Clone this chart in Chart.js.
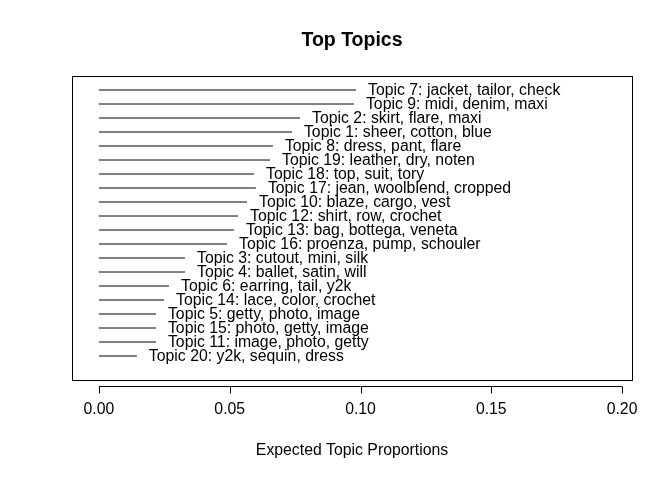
<!DOCTYPE html>
<html>
<head>
<meta charset="utf-8">
<script src="https://cdn.jsdelivr.net/npm/chart.js@4"></script>
<style>
  body { margin: 0; background: #fff; }
  #wrap { width: 672px; height: 480px; }
</style>
</head>
<body>
<div id="wrap"><canvas id="c"></canvas></div>
<script>
// Topics from top to bottom
const topicLabels = [
    'Topic 7: jacket, tailor, check',
    'Topic 9: midi, denim, maxi',
    'Topic 2: skirt, flare, maxi',
    'Topic 1: sheer, cotton, blue',
    'Topic 8: dress, pant, flare',
    'Topic 19: leather, dry, noten',
    'Topic 18: top, suit, tory',
    'Topic 17: jean, woolblend, cropped',
    'Topic 10: blaze, cargo, vest',
    'Topic 12: shirt, row, crochet',
    'Topic 13: bag, bottega, veneta',
    'Topic 16: proenza, pump, schouler',
    'Topic 3: cutout, mini, silk',
    'Topic 4: ballet, satin, will',
    'Topic 6: earring, tail, y2k',
    'Topic 14: lace, color, crochet',
    'Topic 5: getty, photo, image',
    'Topic 15: photo, getty, image',
    'Topic 11: image, photo, getty',
    'Topic 20: y2k, sequin, dress'
];
const proportions = [0.0983, 0.0975, 0.0769, 0.0738, 0.0665, 0.0654, 0.0593, 0.0600,
    0.0566, 0.0532, 0.0516, 0.0490, 0.0329, 0.0329, 0.0268, 0.0249, 0.0218, 0.0218, 0.0218, 0.0145];
const xTicks = [0.00, 0.05, 0.10, 0.15, 0.20];

const datasets = proportions.map((v, i) => ({
    data: [{ x: 0, y: i }, { x: v, y: i }],
    showLine: true,
    borderColor: '#000',
    borderWidth: 1,
    pointRadius: 0
}));

// R-style frame, axis, labels and titles
const rStyle = {
    id: 'rStyle',
    afterDatasetsDraw(chart) {
        const { ctx, chartArea: a, scales: { x, y } } = chart;
        ctx.save();
        ctx.strokeStyle = '#000';
        ctx.lineWidth = 1;
        ctx.strokeRect(a.left + 0.5, a.top + 0.5, a.right - a.left, a.bottom - a.top);

        ctx.fillStyle = '#000';
        ctx.font = '15.8px "Liberation Sans", Arial, sans-serif';
        ctx.textBaseline = 'middle';
        ctx.textAlign = 'left';
        topicLabels.forEach((t, i) => {
            ctx.fillText(t, x.getPixelForValue(proportions[i]) + 12, y.getPixelForValue(i) + 0.5);
        });

        // x axis
        const ay = a.bottom + 6.5;
        ctx.beginPath();
        ctx.moveTo(x.getPixelForValue(xTicks[0]), ay);
        ctx.lineTo(x.getPixelForValue(xTicks[xTicks.length - 1]), ay);
        xTicks.forEach(t => {
            const px = Math.round(x.getPixelForValue(t)) + 0.5;
            ctx.moveTo(px, ay);
            ctx.lineTo(px, ay + 7);
        });
        ctx.stroke();
        ctx.textAlign = 'center';
        xTicks.forEach(t => ctx.fillText(t.toFixed(2), x.getPixelForValue(t), 410));
        ctx.fillText('Expected Topic Proportions', (a.left + a.right) / 2, 451);

        ctx.font = 'bold 19.5px "Liberation Sans", Arial, sans-serif';
        ctx.fillText('Top Topics', (a.left + a.right) / 2, 41);
        ctx.restore();
    }
};

new Chart(document.getElementById('c'), {
    type: 'scatter',
    data: { datasets },
    options: {
        responsive: true,
        maintainAspectRatio: false,
        animation: false,
        layout: { padding: { left: 72, right: 40, top: 76, bottom: 100 } },
        plugins: { legend: { display: false }, tooltip: { enabled: false } },
        scales: {
            x: { display: false, min: -0.0103, max: 0.2038 },
            y: { display: false, reverse: true, min: -1, max: 20.714 }
        }
    },
    plugins: [rStyle]
});
</script>
</body>
</html>
